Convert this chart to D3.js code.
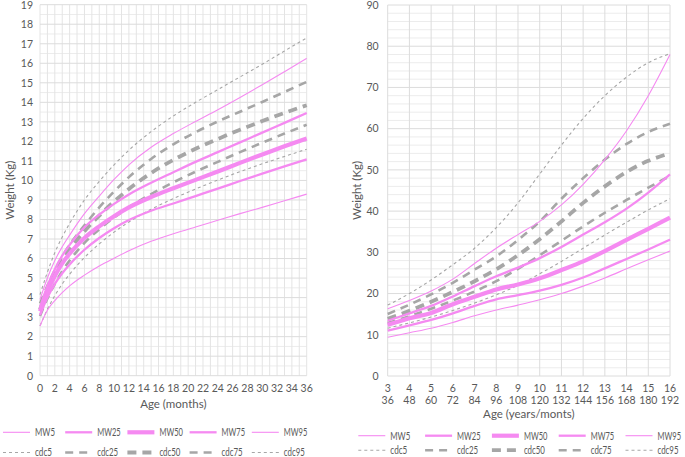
<!DOCTYPE html>
<html>
<head>
  <title>Weight charts MW vs CDC</title>
  <script src="https://d3js.org/d3.v7.min.js"></script>
  <style>
    body { margin: 0; background: #fff; }
    text { font-family: "Liberation Sans Narrow", "Arial Narrow", Lato, sans-serif; fill: #595959; }
  </style>
</head>
<body>
  <div id="chart"></div>
  <script>
// ---- infant chart (0-36 months)
const infMonths = [0, 1, 2, 3, 4, 6, 8, 10, 12, 15, 18, 21, 24, 27, 30, 33, 36];
const infMW5  = [2.55, 3.35, 3.85, 4.25, 4.6, 5.15, 5.62, 6.02, 6.4, 6.88, 7.27, 7.62, 7.96, 8.3, 8.62, 8.96, 9.3];
const infMW25 = [3.1, 4.0, 4.7, 5.25, 5.7, 6.45, 7.05, 7.55, 7.97, 8.45, 8.82, 9.2, 9.58, 9.97, 10.35, 10.72, 11.08];
const infMW50 = [3.3, 4.3, 5.1, 5.75, 6.25, 7.05, 7.65, 8.17, 8.62, 9.15, 9.6, 10.03, 10.46, 10.9, 11.33, 11.75, 12.15];
const infMW75 = [3.5, 4.6, 5.45, 6.15, 6.7, 7.6, 8.25, 8.8, 9.28, 9.88, 10.42, 10.95, 11.45, 11.95, 12.45, 12.95, 13.45];
const infMW95 = [3.9, 5.0, 5.9, 6.6, 7.2, 8.3, 9.2, 10.05, 10.8, 11.7, 12.4, 13.02, 13.62, 14.25, 14.9, 15.57, 16.25];
const infCdc5  = [2.55, 3.4, 4.1, 4.7, 5.2, 6.05, 6.75, 7.35, 7.87, 8.52, 9.07, 9.56, 10.02, 10.45, 10.85, 11.23, 11.6];
const infCdc25 = [3.06, 3.95, 4.7, 5.35, 5.9, 6.8, 7.5, 8.1, 8.62, 9.3, 9.9, 10.45, 10.95, 11.45, 11.93, 12.4, 12.85];
const infCdc50 = [3.4, 4.35, 5.15, 5.85, 6.45, 7.4, 8.2, 8.92, 9.56, 10.38, 11.05, 11.62, 12.12, 12.6, 13.04, 13.46, 13.85];
const infCdc75 = [3.7, 4.6, 5.4, 6.1, 6.7, 7.7, 8.62, 9.43, 10.17, 11.1, 11.85, 12.47, 13.02, 13.52, 14.02, 14.53, 15.05];
const infCdc95 = [4.15, 5.3, 6.3, 7.1, 7.8, 9.0, 9.95, 10.8, 11.55, 12.5, 13.3, 14.0, 14.65, 15.3, 15.95, 16.63, 17.3];
const infXTicks = d3.range(0, 37, 2);
const infYTicks = d3.range(0, 20, 1);

// ---- children chart (3-16 years)
const kidYears = [3, 4, 5, 6, 7, 8, 9, 10, 11, 12, 13, 14, 15, 16];
const kidMonthLabels = [36, 48, 60, 72, 84, 96, 108, 120, 132, 144, 156, 168, 180, 192];
const kidMW5  = [9.4, 10.5, 11.6, 13.0, 14.6, 16.0, 17.2, 18.5, 20.0, 21.8, 23.8, 26.0, 28.2, 30.3];
const kidMW25 = [11.0, 12.3, 13.6, 15.2, 17.0, 18.6, 19.6, 20.7, 22.1, 23.9, 26.1, 28.4, 30.7, 33.1];
const kidMW50 = [12.4, 14.0, 15.3, 17.4, 19.2, 21.0, 22.2, 23.7, 25.7, 27.8, 30.3, 33.0, 35.7, 38.4];
const kidMW75 = [13.4, 15.2, 17.0, 19.3, 21.8, 24.2, 26.3, 28.6, 31.3, 34.3, 37.3, 40.6, 44.5, 48.9];
const kidMW95 = [16.3, 18.3, 20.6, 23.5, 27.3, 31.0, 34.3, 37.5, 41.5, 46.5, 52.5, 59.5, 68.0, 78.0];
const kidCdc5  = [11.6, 12.9, 14.3, 15.9, 17.7, 19.7, 22.0, 24.8, 27.8, 31.0, 34.2, 37.3, 40.3, 43.0];
const kidCdc25 = [12.85, 14.5, 16.3, 18.3, 20.5, 23.0, 26.0, 29.3, 32.8, 36.3, 39.6, 42.7, 45.7, 48.5];
const kidCdc50 = [13.85, 15.8, 18.0, 20.4, 23.0, 25.9, 29.3, 33.2, 37.5, 42.0, 46.0, 49.5, 52.2, 54.0];
const kidCdc75 = [15.05, 17.3, 19.8, 22.6, 25.8, 29.0, 33.0, 37.5, 43.0, 48.0, 52.5, 56.3, 59.2, 61.2];
const kidCdc95 = [17.2, 20.0, 23.3, 27.0, 31.0, 36.0, 42.0, 49.0, 56.0, 62.5, 68.0, 72.5, 76.0, 78.2];
const kidYTicks = d3.range(0, 91, 10);

const seriesNames = ["MW5", "MW25", "MW50", "MW75", "MW95", "cdc5", "cdc25", "cdc50", "cdc75", "cdc95"];

const pink = "#f58af1";
const gray = "#a6a6a6";
// line look per series
const styles = {
  MW5:   { color: pink, width: 1.1, dash: null },
  MW25:  { color: pink, width: 2.3, dash: null },
  MW50:  { color: pink, width: 4.2, dash: null },
  MW75:  { color: pink, width: 2.3, dash: null },
  MW95:  { color: pink, width: 1.1, dash: null },
  cdc5:  { color: gray, width: 1.1, dash: "3,3" },
  cdc25: { color: gray, width: 2.6, dash: "8,6" },
  cdc50: { color: gray, width: 3.8, dash: "9,6" },
  cdc75: { color: gray, width: 2.6, dash: "8,6" },
  cdc95: { color: gray, width: 1.1, dash: "3,3" }
};

const fs = 10.5;

const svg = d3.select("#chart").append("svg")
  .attr("width", 685)
  .attr("height", 457);

// squeeze a text if the narrow font is missing and it runs too wide
function fitText(sel, maxW) {
  sel.each(function () {
    if (this.getComputedTextLength() > maxW) {
      d3.select(this).attr("textLength", maxW).attr("lengthAdjust", "spacingAndGlyphs");
    }
  });
}

// draw grid, ticks and the 10 curves into one panel
function drawPanel(opt) {
  const x = d3.scaleLinear().domain(opt.xDomain).range([opt.left, opt.right]);
  const y = d3.scaleLinear().domain(opt.yDomain).range([opt.bottom, opt.top]);
  const g = svg.append("g");

  // minor horizontal grid
  g.selectAll(".hmin").data(opt.yMinor).enter().append("line")
    .attr("x1", opt.left).attr("x2", opt.right)
    .attr("y1", d => y(d)).attr("y2", d => y(d))
    .attr("stroke", "#ececec").attr("stroke-width", 1);
  // vertical grid
  g.selectAll(".vgrid").data(opt.xGrid).enter().append("line")
    .attr("x1", d => x(d)).attr("x2", d => x(d))
    .attr("y1", opt.top).attr("y2", opt.bottom)
    .attr("stroke", opt.vColor).attr("stroke-width", 1);
  // major horizontal grid
  g.selectAll(".hmaj").data(opt.yTicks).enter().append("line")
    .attr("x1", opt.left).attr("x2", opt.right)
    .attr("y1", d => y(d)).attr("y2", d => y(d))
    .attr("stroke", "#dcdcdc").attr("stroke-width", 1);

  // y tick labels
  g.selectAll(".ylab").data(opt.yTicks).enter().append("text")
    .attr("x", opt.left - opt.yLabelGap)
    .attr("y", d => y(d) + 3.8)
    .attr("text-anchor", "end")
    .attr("font-size", fs)
    .text(d => d);

  // x tick labels
  opt.xTicks.forEach((t, i) => {
    g.append("text")
      .attr("x", x(t))
      .attr("y", opt.bottom + 16)
      .attr("text-anchor", "middle")
      .attr("font-size", fs)
      .text(t);
    if (opt.xTicks2) {
      g.append("text")
        .attr("x", x(t))
        .attr("y", opt.bottom + 28)
        .attr("text-anchor", "middle")
        .attr("font-size", fs)
        .text(opt.xTicks2[i]);
    }
  });

  // axis titles
  g.append("text")
    .attr("x", (opt.left + opt.right) / 2)
    .attr("y", opt.xTitleY)
    .attr("text-anchor", "middle")
    .attr("font-size", 11.5)
    .text(opt.xTitle);
  g.append("text")
    .attr("transform", `translate(${opt.yTitleX},${(opt.top + opt.bottom) / 2}) rotate(-90)`)
    .attr("text-anchor", "middle")
    .attr("font-size", 11.5)
    .text("Weight (Kg)");

  // curves: draw cdc first, then MW on top
  const line = d3.line()
    .x(d => x(d[0]))
    .y(d => y(d[1]))
    .curve(d3.curveMonotoneX);
  const order = ["cdc5", "cdc25", "cdc50", "cdc75", "cdc95", "MW5", "MW25", "MW50", "MW75", "MW95"];
  order.forEach(name => {
    const vals = opt.series[name];
    const pts = opt.xs.map((xv, i) => [xv, vals[i]]);
    const s = styles[name];
    g.append("path")
      .attr("d", line(pts))
      .attr("fill", "none")
      .attr("stroke", s.color)
      .attr("stroke-width", s.width)
      .attr("stroke-dasharray", s.dash);
  });

  // legend, two rows of five
  seriesNames.forEach((name, i) => {
    const row = i < 5 ? 0 : 1;
    const col = i % 5;
    const lx = opt.legendX + col * opt.legendStep;
    const ly = opt.legendY[row];
    const s = styles[name];
    g.append("line")
      .attr("x1", lx).attr("x2", lx + 27)
      .attr("y1", ly).attr("y2", ly)
      .attr("stroke", s.color)
      .attr("stroke-width", s.width)
      .attr("stroke-dasharray", s.dash);
    const maxW = name === "MW5" ? 20 : name === "cdc5" ? 17 : name.startsWith("MW") ? 23.5 : 21;
    g.append("text")
      .attr("x", lx + 32)
      .attr("y", ly + 3.8)
      .attr("font-size", fs)
      .text(name)
      .call(fitText, maxW);
  });
}

drawPanel({
  xDomain: [0, 36], yDomain: [0, 19],
  left: 40, right: 306.7, top: 4.7, bottom: 375.7,
  xGrid: d3.range(0, 37, 1),
  yTicks: infYTicks,
  yMinor: d3.range(0.5, 19, 1),
  vColor: "#e4e4e4",
  xTicks: infXTicks,
  yLabelGap: 7,
  xTitle: "Age (months)", xTitleY: 408,
  yTitleX: 14,
  xs: infMonths,
  series: { MW5: infMW5, MW25: infMW25, MW50: infMW50, MW75: infMW75, MW95: infMW95,
            cdc5: infCdc5, cdc25: infCdc25, cdc50: infCdc50, cdc75: infCdc75, cdc95: infCdc95 },
  legendX: 3, legendStep: 62.2, legendY: [432.3, 452.5]
});

drawPanel({
  xDomain: [3, 16], yDomain: [0, 90],
  left: 387.7, right: 670, top: 5, bottom: 376,
  xGrid: kidYears,
  yTicks: kidYTicks,
  yMinor: d3.range(0, 91, 2).filter(v => v % 10 !== 0),
  vColor: "#dcdcdc",
  xTicks: kidYears,
  xTicks2: kidMonthLabels,
  yLabelGap: 9,
  xTitle: "Age (years/monts)", xTitleY: 418,
  yTitleX: 361,
  xs: kidYears,
  series: { MW5: kidMW5, MW25: kidMW25, MW50: kidMW50, MW75: kidMW75, MW95: kidMW95,
            cdc5: kidCdc5, cdc25: kidCdc25, cdc50: kidCdc50, cdc75: kidCdc75, cdc95: kidCdc95 },
  legendX: 358.3, legendStep: 66.8, legendY: [435.7, 450.2]
});
  </script>
</body>
</html>
